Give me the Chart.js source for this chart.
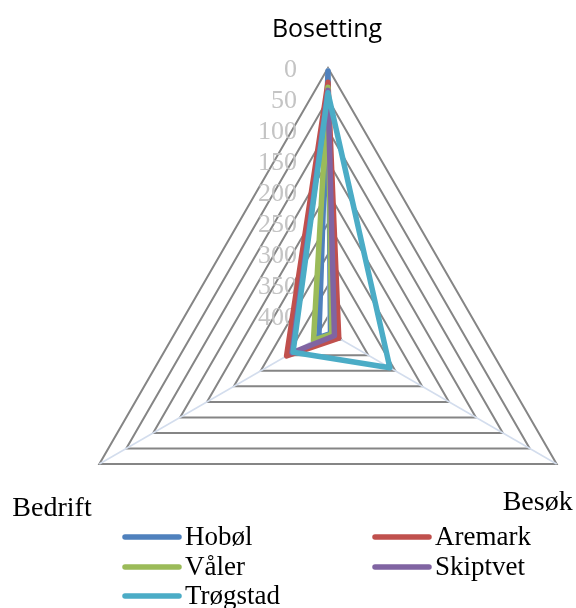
<!DOCTYPE html>
<html>
<head>
<meta charset="utf-8">
<script src="https://cdn.jsdelivr.net/npm/chart.js@4/dist/chart.umd.min.js"></script>
<style>
  html, body { margin: 0; padding: 0; background: #fff; overflow: hidden; }
  canvas { display: block; }
</style>
</head>
<body>
<canvas id="myChart" width="600" height="608"></canvas>
<script>
// data
const categories = ['Bosetting', 'Besøk', 'Bedrift'];
const seriesNames = ['Hobøl', 'Aremark', 'Våler', 'Skiptvet', 'Trøgstad'];
const hobol = [5, 420, 408];
const aremark = [23, 405, 348];
const valer = [31, 418, 398];
const skiptvet = [36, 413, 358];
const trogstad = [40, 310, 360];
const axisMax = 425;
const tickStep = 50;

const seriesColors = ['#4F81BD', '#C0504D', '#9BBB59', '#8064A2', '#4BACC6'];
const seriesValues = [hobol, aremark, valer, skiptvet, trogstad];

// tick labels to the left of the vertical axis (drawn under the lines)
const tickLabelPlugin = {
    id: 'tickLabels',
    beforeDatasetsDraw(chart) {
        const scale = chart.scales.r;
        const ctx = chart.ctx;
        ctx.save();
        ctx.font = '26px "Liberation Serif"';
        ctx.fillStyle = '#c4c4c4';
        ctx.textAlign = 'right';
        ctx.textBaseline = 'middle';
        scale.ticks.forEach(function(t) {
            const y = scale.yCenter - scale.getDistanceFromCenterForValue(t.value);
            ctx.fillText(String(t.value), scale.xCenter - 31, y + 2);
        });
        ctx.restore();
    }
};

// category names at the corners
const cornerLabelPlugin = {
    id: 'cornerLabels',
    afterDraw(chart) {
        const scale = chart.scales.r;
        const ctx = chart.ctx;
        ctx.save();
        ctx.fillStyle = '#000';
        ctx.textBaseline = 'alphabetic';
        categories.forEach(function(name, i) {
            const p = scale.getPointPosition(i, scale.drawingArea);
            if (i === 0) {
                ctx.font = '25px "Open Sans"';
                ctx.textAlign = 'center';
                ctx.fillText(name, p.x - 1, p.y - 31);
            } else if (i === 1) {
                ctx.font = '28px "Liberation Serif"';
                ctx.textAlign = 'right';
                ctx.fillText(name, p.x + 16, p.y + 46);
            } else {
                ctx.font = '28px "Liberation Serif"';
                ctx.textAlign = 'left';
                ctx.fillText(name, p.x - 87, p.y + 52);
            }
        });
        ctx.restore();
    }
};

// legend in two columns below the chart
const gridLegendPlugin = {
    id: 'gridLegend',
    afterDraw(chart) {
        const ctx = chart.ctx;
        const colX = [125, 375];
        const rowY = [537, 567, 596];
        ctx.save();
        ctx.font = '27px "Liberation Serif"';
        ctx.textAlign = 'left';
        ctx.textBaseline = 'middle';
        chart.data.datasets.forEach(function(ds, i) {
            const x = colX[i % 2];
            const y = rowY[Math.floor(i / 2)];
            ctx.strokeStyle = ds.borderColor;
            ctx.lineWidth = 5.5;
            ctx.lineCap = 'round';
            ctx.beginPath();
            ctx.moveTo(x, y);
            ctx.lineTo(x + 54, y);
            ctx.stroke();
            ctx.fillStyle = '#000';
            ctx.fillText(ds.label, x + 60, y + 1);
        });
        ctx.restore();
    }
};

const ctx = document.getElementById('myChart').getContext('2d');
const myChart = new Chart(ctx, {
    type: 'radar',
    data: {
        labels: categories,
        datasets: seriesNames.map(function(name, i) {
            return {
                label: name,
                data: seriesValues[i],
                borderColor: seriesColors[i],
                backgroundColor: seriesColors[i],
                borderWidth: 5.5,
                borderJoinStyle: 'round',
                fill: false,
                pointRadius: 0,
                pointHoverRadius: 0,
                // last series on top, like the original
                order: seriesNames.length - i
            };
        })
    },
    options: {
        responsive: false,
        animation: false,
        layout: {
            padding: { left: 64, right: 8, top: 68, bottom: 12 }
        },
        elements: {
            line: { tension: 0 }
        },
        plugins: {
            legend: { display: false },
            tooltip: { enabled: false }
        },
        scales: {
            r: {
                reverse: true,
                min: -0.001,
                max: axisMax,
                ticks: {
                    stepSize: tickStep,
                    includeBounds: false,
                    display: false
                },
                pointLabels: { display: false },
                grid: {
                    color: '#858585',
                    lineWidth: 2
                },
                angleLines: {
                    color: '#d3dded',
                    lineWidth: 1.5
                }
            }
        }
    },
    plugins: [tickLabelPlugin, cornerLabelPlugin, gridLegendPlugin]
});
</script>
</body>
</html>
